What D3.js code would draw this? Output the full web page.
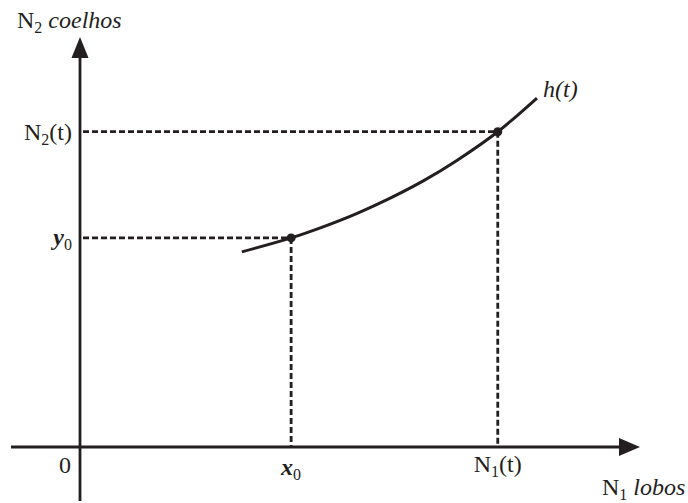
<!DOCTYPE html>
<html>
<head>
<meta charset="utf-8">
<script src="https://cdn.jsdelivr.net/npm/d3@7"></script>
<style>
  body { margin: 0; background: #fff; }
  text { font-family: "Liberation Serif", "Times New Roman", "DejaVu Serif", serif; fill: #231f20; }
</style>
</head>
<body>
<div id="chart"></div>
<script>
// 1: DATA (abstract units, 0..100 on both axes)
const curveX = [28.9, 37.7, 43.4, 49.5, 55.4, 61.3, 67.3, 74.6, 81.6];
const curveY = [47.6, 51.0, 53.7, 57.0, 60.7, 64.9, 69.9, 76.9, 85.1];
const markedX = [37.7, 74.6];   // x0, N1(t)
const markedY = [51.0, 76.9];   // y0, N2(t)

const width = 688, height = 503;
const ink = "#231f20";

const svg = d3.select("#chart")
    .append("svg")
    .attr("width", width)
    .attr("height", height);

// 2: SCALES (origin of the plane sits at 80,447)
const xScale = d3.scaleLinear().domain([0, 100]).range([80, 640]);
const yScale = d3.scaleLinear().domain([0, 100]).range([447, 37]);

// 3: AXES with filled arrow heads
svg.append("line")
    .attr("x1", 11).attr("x2", xScale(100) - 18)
    .attr("y1", yScale(0)).attr("y2", yScale(0))
    .attr("stroke", ink).attr("stroke-width", 2.8);
svg.append("line")
    .attr("x1", xScale(0)).attr("x2", xScale(0))
    .attr("y1", 501).attr("y2", yScale(100) + 18)
    .attr("stroke", ink).attr("stroke-width", 2.8);

// x arrow
svg.append("path")
    .attr("d", `M${xScale(100)},${yScale(0)} L${xScale(100) - 21},${yScale(0) - 9} L${xScale(100) - 21},${yScale(0) + 9} Z`)
    .attr("fill", ink);
// y arrow
svg.append("path")
    .attr("d", `M${xScale(0)},${yScale(100)} L${xScale(0) - 8.5},${yScale(100) + 21} L${xScale(0) + 8.5},${yScale(100) + 21} Z`)
    .attr("fill", ink);

// 4: DASHED GUIDES
markedX.forEach((mx, i) => {
    const my = markedY[i];
    svg.append("line")
        .attr("x1", xScale(0) + 3).attr("x2", xScale(mx))
        .attr("y1", yScale(my)).attr("y2", yScale(my))
        .attr("stroke", ink).attr("stroke-width", 2.8)
        .attr("stroke-dasharray", "6,3");
    svg.append("line")
        .attr("x1", xScale(mx)).attr("x2", xScale(mx))
        .attr("y1", yScale(my)).attr("y2", yScale(0))
        .attr("stroke", ink).attr("stroke-width", 2.8)
        .attr("stroke-dasharray", "6,3");
});

// 5: CURVE h(t)
const pts = curveX.map((x, i) => [x, curveY[i]]);
const line = d3.line()
    .x(d => xScale(d[0]))
    .y(d => yScale(d[1]))
    .curve(d3.curveCatmullRom);
svg.append("path")
    .datum(pts)
    .attr("d", line)
    .attr("fill", "none")
    .attr("stroke", ink)
    .attr("stroke-width", 3);

svg.selectAll(".dot")
    .data(markedX)
    .join("circle")
    .attr("class", "dot")
    .attr("cx", d => xScale(d))
    .attr("cy", (d, i) => yScale(markedY[i]))
    .attr("r", 4.5)
    .attr("fill", ink);

// 6: LABELS
const fs = 24;
function label(x, y, anchor, parts) {
    const t = svg.append("text")
        .attr("x", x).attr("y", y)
        .attr("text-anchor", anchor)
        .style("font-size", fs + "px");
    parts.forEach(p => {
        const s = t.append("tspan").text(p.t);
        if (p.sub) s.attr("dy", 5).style("font-size", "16px");
        if (p.up) s.attr("dy", -5);
        if (p.i) s.style("font-style", "italic");
        if (p.b) s.style("font-weight", "bold");
    });
    return t;
}

label(17, 28, "start", [{ t: "N" }, { t: "2", sub: true }, { t: " coelhos", i: true, up: true }]);
label(72, 140, "end", [{ t: "N" }, { t: "2", sub: true }, { t: "(t)", up: true }]);
label(72, 245, "end", [{ t: "y", i: true, b: true }, { t: "0", sub: true }]);
label(71, 473, "end", [{ t: "0" }]);
label(xScale(markedX[0]), 475, "middle", [{ t: "x", i: true, b: true }, { t: "0", sub: true }]);
label(xScale(markedX[1]), 472, "middle", [{ t: "N" }, { t: "1", sub: true }, { t: "(t)", up: true }]);
label(602, 495, "start", [{ t: "N" }, { t: "1", sub: true }, { t: " lobos", i: true, up: true }]);
label(543, 97, "start", [{ t: "h(t)", i: true }]);
</script>
</body>
</html>
